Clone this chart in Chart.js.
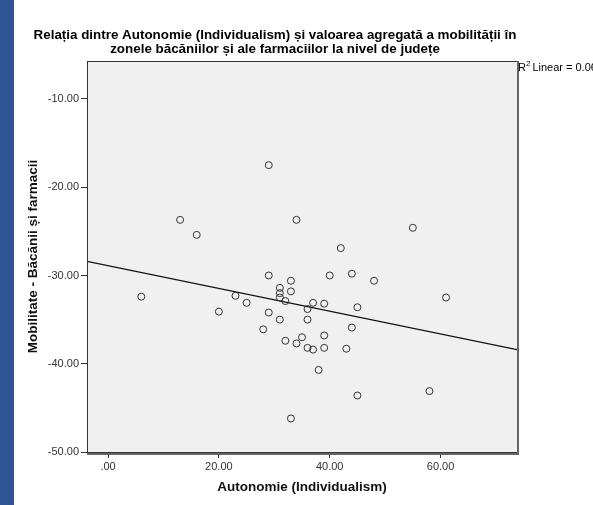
<!DOCTYPE html>
<html>
<head>
<meta charset="utf-8">
<script src="https://cdn.jsdelivr.net/npm/chart.js@4"></script>
<style>
body{margin:0;background:#fff;}
#bara{position:absolute;left:0;top:0;width:14px;height:505px;background:#2f5597;}
#graf{position:absolute;left:0;top:0;}
</style>
</head>
<body>
<div id="bara"></div>
<canvas id="graf" width="593" height="505"></canvas>
<script>
// Autonomie (Individualism) pe judete
var autonomie = [6, 13, 16, 20, 23, 25, 28, 29, 29, 29, 31, 31, 31, 31, 32, 32, 33, 33, 33, 34, 34,
    35, 36, 36, 36, 37, 37, 38, 39, 39, 39, 40, 42, 43, 44, 44, 45, 45, 48, 55, 58, 61];
// Mobilitate - Bacanii si farmacii
var mobilitate = [-32.4, -23.7, -25.4, -34.1, -32.3, -33.1, -36.1, -17.5, -30.0, -34.2, -31.4, -32.0, -32.5, -35.0,
    -32.9, -37.4, -30.6, -31.8, -46.2, -23.7, -37.7, -37.0, -33.8, -35.0, -38.2, -33.1, -38.4, -40.7,
    -33.2, -36.8, -38.2, -30.0, -26.9, -38.3, -29.8, -35.9, -33.6, -43.6, -30.6, -24.6, -43.1, -32.5];

// dreapta de regresie (capetele)
var dreaptaX = [-3.8, 73.8];
var dreaptaY = [-28.4, -38.4];

var tickuriX = [0, 20, 40, 60];
var tickuriY = [-50, -40, -30, -20, -10];

var titlu = ["Relația dintre Autonomie (Individualism) și valoarea agregată a mobilității în",
    "zonele băcăniilor și ale farmaciilor la nivel de județe"];
var r2 = "0.061";

var puncte = [];
for(var i=0;i<autonomie.length;i++){
    puncte.push({x:autonomie[i], y:mobilitate[i]});
}
var linie = [];
for(var i=0;i<dreaptaX.length;i++){
    linie.push({x:dreaptaX[i], y:dreaptaY[i]});
}

function formatTick(v){
    return v.toFixed(2).replace(/^0\./, '.');
}

var fundal = {
    id:'fundal',
    beforeDatasetsDraw:function(chart){
        var ctx = chart.ctx, a = chart.chartArea;
        ctx.save();
        ctx.fillStyle = '#f0f0f0';
        ctx.fillRect(a.left, a.top, a.right-a.left, a.bottom-a.top);
        ctx.restore();
    },
    afterDraw:function(chart){
        var ctx = chart.ctx, a = chart.chartArea;
        ctx.save();
        ctx.strokeStyle = '#333';
        ctx.lineWidth = 1;
        ctx.strokeRect(a.left+0.5, a.top+0.5, a.right-a.left, a.bottom-a.top);
        ctx.strokeStyle = '#666';
        ctx.lineWidth = 2;
        ctx.beginPath();
        ctx.moveTo(a.right+1, a.top);
        ctx.lineTo(a.right+1, a.bottom+2);
        ctx.lineTo(a.left, a.bottom+2);
        ctx.stroke();

        // titlu
        ctx.fillStyle = '#000';
        ctx.font = 'bold 13.4px "Liberation Sans", Arial, sans-serif';
        ctx.textAlign = 'center';
        ctx.textBaseline = 'middle';
        ctx.fillText(titlu[0], 275, 35);
        ctx.fillText(titlu[1], 275, 49);

        // R2 Linear
        ctx.textAlign = 'left';
        ctx.font = '11px "Liberation Sans", Arial, sans-serif';
        var x = a.right + 1;
        ctx.fillText('R', x, 68);
        x += ctx.measureText('R').width;
        ctx.font = '8px "Liberation Sans", Arial, sans-serif';
        ctx.fillText('2', x, 64);
        x += ctx.measureText('2').width + 2;
        ctx.font = '11px "Liberation Sans", Arial, sans-serif';
        ctx.fillText('Linear = ' + r2, x, 68);
        ctx.restore();
    }
};

var graf = new Chart(document.getElementById('graf'), {
    type:'scatter',
    data:{
        datasets:[{
            label:'Judete',
            data:puncte,
            pointRadius:3.5,
            pointHoverRadius:3.5,
            pointBorderColor:'#333',
            pointBorderWidth:1,
            pointBackgroundColor:'rgba(0,0,0,0)'
        },{
            label:'Linear',
            data:linie,
            showLine:true,
            borderColor:'#111',
            borderWidth:1.3,
            pointRadius:0
        }]
    },
    options:{
        responsive:false,
        animation:false,
        devicePixelRatio:1,
        layout:{padding:{left:21, top:61, right:76, bottom:6}},
        plugins:{
            legend:{display:false},
            tooltip:{enabled:false}
        },
        scales:{
            x:{
                type:'linear',
                min:-3.8,
                max:73.8,
                afterBuildTicks:function(s){ s.ticks = tickuriX.map(function(v){return {value:v};}); },
                afterFit:function(s){ s.height = 47; },
                grid:{drawOnChartArea:false, tickLength:6, color:'#333', tickWidth:1},
                border:{display:false},
                ticks:{padding:2, color:'#333', font:{family:'"Liberation Sans", Arial', size:11}, callback:formatTick},
                title:{display:true, text:'Autonomie (Individualism)', color:'#111',
                    font:{family:'"Liberation Sans", Arial', size:13.5, weight:'bold'}}
            },
            y:{
                type:'linear',
                min:-50,
                max:-5.7,
                afterBuildTicks:function(s){ s.ticks = tickuriY.map(function(v){return {value:v};}); },
                afterFit:function(s){ s.width = 66; },
                grid:{drawOnChartArea:false, tickLength:6, color:'#333', tickWidth:1},
                border:{display:false},
                ticks:{padding:2, color:'#333', font:{family:'"Liberation Sans", Arial', size:11}, callback:formatTick},
                title:{display:true, text:'Mobilitate - Băcănii și farmacii', color:'#111',
                    font:{family:'"Liberation Sans", Arial', size:13.5, weight:'bold'}}
            }
        }
    },
    plugins:[fundal]
});
</script>
</body>
</html>
